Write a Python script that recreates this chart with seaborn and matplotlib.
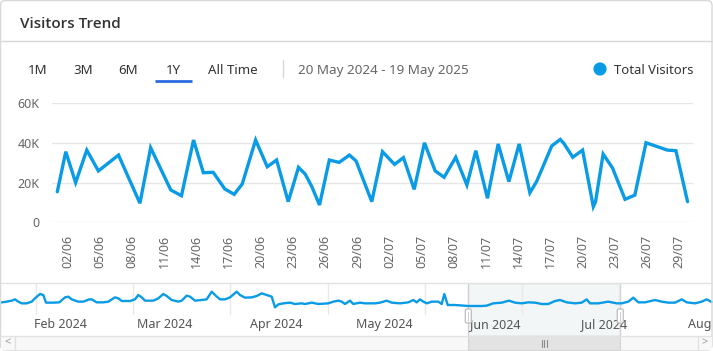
import matplotlib
matplotlib.use("Agg")
import matplotlib.pyplot as plt
from matplotlib.patches import FancyBboxPatch, Rectangle, Circle
import seaborn as sns
import pandas as pd

# ---------------- data ----------------
title = "Visitors Trend"
range_buttons = ["1M", "3M", "6M", "1Y", "All Time"]
selected_button = "1Y"
date_range_text = "20 May 2024 - 19 May 2025"
legend_label = "Total Visitors"

main_times = [
    "2024-06-01 00:00", "2024-06-01 19:00", "2024-06-02 17:00", "2024-06-03 18:00",
    "2024-06-04 20:00", "2024-06-06 17:00", "2024-06-08 17:00", "2024-06-09 17:00",
    "2024-06-11 14:00", "2024-06-12 14:00", "2024-06-13 17:00", "2024-06-14 15:00",
    "2024-06-15 13:00", "2024-06-16 15:00", "2024-06-17 12:00", "2024-06-18 06:00",
    "2024-06-19 12:00", "2024-06-20 14:00", "2024-06-21 11:00", "2024-06-22 13:00",
    "2024-06-23 12:00", "2024-06-24 03:00", "2024-06-24 18:00", "2024-06-25 11:00",
    "2024-06-26 09:00", "2024-06-27 07:00", "2024-06-28 06:00", "2024-06-28 21:00",
    "2024-06-30 08:00", "2024-07-01 08:00", "2024-07-02 11:00", "2024-07-03 07:00",
    "2024-07-04 07:00", "2024-07-05 06:00", "2024-07-06 06:00", "2024-07-07 02:00",
    "2024-07-08 04:00", "2024-07-09 05:00", "2024-07-10 01:00", "2024-07-11 03:00",
    "2024-07-12 03:00", "2024-07-13 03:00", "2024-07-14 02:00", "2024-07-15 02:00",
    "2024-07-15 17:00", "2024-07-17 03:00", "2024-07-17 22:00", "2024-07-18 06:00",
    "2024-07-19 02:00", "2024-07-20 00:00", "2024-07-21 00:00", "2024-07-21 05:00",
    "2024-07-21 22:00", "2024-07-22 19:00", "2024-07-23 23:00", "2024-07-24 21:00",
    "2024-07-25 22:00", "2024-07-27 22:00", "2024-07-28 17:00", "2024-07-29 19:00",
]
main_visitors = [
    15400, 35600, 20000, 36400, 25900, 33900, 9600, 37600,
    16300, 13400, 41500, 25000, 25200, 16800, 14100, 19300,
    41500, 28000, 31400, 10400, 27700, 24300, 17900, 8700,
    31400, 30200, 33900, 30900, 10400, 35600, 29200, 32600,
    16600, 40100, 25900, 22700, 32800, 18800, 36100, 12100,
    39500, 20500, 39500, 14900, 20500, 38500, 41800, 39800,
    32800, 36400, 7900, 10400, 34400, 27400, 11600, 13700,
    40100, 36400, 36100, 10400,
]
x_tick_dates = pd.date_range("2024-06-02", "2024-07-29", freq="3D")
y_ticks = [0, 20000, 40000, 60000]
y_tick_labels = ["0", "20K", "40K", "60K"]

# navigator (overview) series
nav_start = "2024-01-15 08:00"
nav_day_offsets = [
    0, 1.86, 3.25, 4.17, 5.08, 6.03, 7.42, 8.81, 9.72, 11.11, 12.03, 12.78, 14.81, 16.47,
    18.06, 18.97, 19.92, 21.75, 23.14, 24.81, 25.47, 26.86, 28.69, 30.08, 31.94, 32.86,
    33.81, 36.11, 37.5, 38.42, 39.36, 40.28, 42.58, 43.97, 45.36, 46.31, 47.69, 49.53,
    50.47, 51.86, 52.78, 54.17, 56.03, 57.42, 58.81, 59.72, 61.11, 62.5, 63.89, 65.75,
    66.67, 68.06, 69.92, 71.31, 72.69, 74.08, 75.47, 76.39, 77.31, 78.69, 80.56, 81.94,
    83.81, 84.72, 86.58, 88.42, 91.19, 92.58, 93.97, 94.92, 95.83, 97.22, 98.14, 100,
    101.39, 104.17, 105.56, 107.42, 108.81, 111.11, 113.42, 114.81, 115.75, 116.67,
    117.58, 118.53, 119.92, 121.75, 122.69, 123.42, 124.36, 126.39, 130.08, 133.81,
    135.19, 137.03, 139.36, 141.39, 143.06, 144.92, 146.75, 148.61, 150.47, 152.31,
    154.17, 155.56, 157.42, 159.72, 161.58, 162.97, 163.89, 166.19, 168.97, 171.31,
    172.69, 174.53, 175.92, 177.31, 179.17, 181.94, 183.81, 185.64, 187.5, 189.36,
    190.75, 193.06, 194.92, 196.31, 197.69,
]
nav_visitors_k = [
    26.7, 28.7, 30.7, 33.3, 28.7, 25.3, 25.3, 28.7, 35.3, 44, 42, 26.7, 26.7, 27.3,
    37.3, 38.7, 33.3, 28.7, 28.7, 33.3, 33.3, 27.3, 27.3, 28.7, 37.3, 35.3,
    30, 30, 33.3, 42, 37.3, 30.7, 30.7, 35.3, 44, 40, 32, 28.7,
    30.7, 40.7, 38.7, 30.7, 32, 33.3, 48.7, 42, 33.3, 33.3, 37.3, 48.7,
    42, 36.7, 37.3, 40, 45.3, 42, 38.7, 17.3, 23.3, 25.3, 26.7, 24,
    25.3, 24, 26.7, 24, 25.3, 28.7, 30.7, 28.7, 24, 30.7, 24, 26.7,
    25.3, 25.3, 26.7, 30.7, 26.7, 25.3, 27.3, 32, 27.3, 33.3,
    28.7, 25.3, 28.7, 28.7, 24, 44, 22, 22, 20, 20,
    20.7, 25.3, 26.7, 30.7, 26.7, 25.3, 27.3, 26.7, 24, 24,
    30, 32, 27.3, 25.3, 26.7, 33.3, 25.3, 25.3, 28.7, 25.3,
    25.3, 28.7, 36.7, 27.3, 27.3, 32, 28.7, 26.7, 26.7, 33.3,
    27.3, 25.3, 28.7, 33.3, 28,
]
nav_month_labels = ["Feb 2024", "Mar 2024", "Apr 2024", "May 2024", "Jun 2024", "Jul 2024", "Aug 2024"]
nav_month_dates = ["2024-02-01", "2024-03-01", "2024-04-01", "2024-05-01", "2024-06-01", "2024-07-01", "2024-08-01"]
nav_grid_dates = pd.date_range("2024-01-25 08:00", periods=7, freq="27D")
selection_start = "2024-05-24 10:00"
selection_end = "2024-07-05 15:00"

# ---------------- style ----------------
BLUE = "#0A9BE6"
TAB_BLUE = "#2B6DE0"
GRID = "#E6E6E6"
BORDER = "#D8D8D8"
TXT = "#333333"
SUB = "#666666"

sns.set_style("white")
plt.rcParams["font.family"] = ["Noto Sans", "DejaVu Sans"]

W, H = 713, 351
fig = plt.figure(figsize=(W / 100, H / 100), dpi=100)
fig.patch.set_facecolor("white")


def fig_rect(x0, y0, x1, y1):
    return [x0 / W, 1 - y1 / H, (x1 - x0) / W, (y1 - y0) / H]


# ---------------- main chart ----------------
ax = fig.add_axes(fig_rect(52, 103.3, 693, 222.3))
df = pd.DataFrame({"time": pd.to_datetime(main_times), "visitors": main_visitors})
sns.lineplot(data=df, x="time", y="visitors", ax=ax, color=BLUE, linewidth=2.4,
             solid_joinstyle="miter", legend=False)
t0 = pd.Timestamp("2024-06-01")
ax.set_xlim(t0 - pd.Timedelta(days=0.494), t0 + pd.Timedelta(days=59.3))
ax.set_ylim(0, 60000)
ax.set_yticks(y_ticks)
ax.set_yticklabels(y_tick_labels)
ax.set_xticks(x_tick_dates)
ax.set_xticklabels([d.strftime("%d/%m") for d in x_tick_dates], rotation=90)
ax.tick_params(axis="y", length=0, pad=9, labelsize=9, labelcolor=SUB)
ax.tick_params(axis="x", length=0, pad=9, labelsize=9, labelcolor=SUB)
ax.set_xlabel("")
ax.set_ylabel("")
for s in ax.spines.values():
    s.set_visible(False)
ax.grid(False)
for yv in y_ticks:
    ax.axhline(yv, color=GRID, lw=1.0, zorder=0)
ax.set_facecolor("none")

# ---------------- navigator ----------------
nav = fig.add_axes(fig_rect(0, 282.7, 713, 335.7))
ns = pd.Timestamp(nav_start)
nav_df = pd.DataFrame({
    "time": [ns + pd.Timedelta(days=d) for d in nav_day_offsets],
    "visitors": nav_visitors_k,
})
nav.set_xlim(ns, ns + pd.Timedelta(days=W / 3.6))
nav.set_ylim(-39.4, 66.6)
sel0, sel1 = pd.Timestamp(selection_start), pd.Timestamp(selection_end)
xt = nav.get_xaxis_transform()
nav.add_patch(Rectangle((sel0, 0), sel1 - sel0, 1, transform=xt,
                        facecolor="#F3F6F6", edgecolor="#CFCFCF", lw=1.0, zorder=0))
for gd in nav_grid_dates:
    nav.axvline(gd, ymin=0.404, ymax=1, color="#E9E9E9", lw=1.0, zorder=0.5)
sns.lineplot(data=nav_df, x="time", y="visitors", ax=nav, color=BLUE, linewidth=1.7,
             legend=False)
for lab, d in zip(nav_month_labels, nav_month_dates):
    nav.text(pd.Timestamp(d), 0.22, lab, transform=xt, ha="center", va="center",
             fontsize=9, color="#555555", clip_on=False)
nav.set_xticks([])
nav.set_yticks([])
nav.set_xlabel("")
nav.set_ylabel("")
for s in nav.spines.values():
    s.set_visible(False)
nav.set_facecolor("none")

fig.canvas.draw()
hx0 = nav.transData.transform((nav.convert_xunits(sel0), 0))[0]
hx1 = nav.transData.transform((nav.convert_xunits(sel1), 0))[0]

# ---------------- overlay (card, header, scrollbar) ----------------
ov = fig.add_axes([0, 0, 1, 1], zorder=10)
ov.set_xlim(0, W)
ov.set_ylim(H, 0)
ov.axis("off")
ov.patch.set_alpha(0)

ov.add_patch(FancyBboxPatch((0.5, 0.5), W - 1.5, H - 1.5,
                            boxstyle="round,pad=0,rounding_size=5",
                            facecolor="none", edgecolor=BORDER, lw=1.0))
ov.plot([0.5, W - 1], [41.3, 41.3], color=BORDER, lw=1.0)
ov.text(20.5, 27.7, title, fontsize=11, fontweight="semibold", color="#333333",
        ha="left", va="baseline", family=["Open Sans", "Noto Sans", "DejaVu Sans"])

btn_x = [38, 82.8, 127.8, 173.3, 232.8]
for lab, bx in zip(range_buttons, btn_x):
    ov.text(bx, 74, lab, fontsize=9.6, color=TXT, ha="center", va="baseline")
    if lab == selected_button:
        ov.plot([155, 192.3], [80.5, 80.5], color=TAB_BLUE, lw=2.0, solid_capstyle="butt")
ov.plot([282.7, 282.7], [59.5, 76.5], color=BORDER, lw=1.0)
ov.text(298, 74, date_range_text, fontsize=9.7, color=SUB, ha="left", va="baseline")
ov.add_patch(Circle((600, 69), 5.9, color=BLUE))
ov.text(614, 74, legend_label, fontsize=9.4, color=TXT, ha="left", va="baseline")

# navigator borders
ov.plot([0.5, W - 1], [282.7, 282.7], color="#E2E2E2", lw=1.0)
ov.plot([0.5, W - 1], [335.7, 335.7], color="#E2E2E2", lw=1.0)

# scrollbar
ov.add_patch(Rectangle((0.5, 335.7), W - 1.5, 14.3, facecolor="#F8F8F8",
                       edgecolor="none"))
ov.add_patch(Rectangle((hx0, 335.7), hx1 - hx0, 14.3, facecolor="#E3E3E3",
                       edgecolor="#D5D5D5", lw=0.8))
cx = (hx0 + hx1) / 2
for dx in (-2.5, 0, 2.5):
    ov.plot([cx + dx, cx + dx], [339.5, 346.5], color="#8A8A8A", lw=0.8)
ov.plot([15, 15], [336, 350], color="#E2E2E2", lw=1.0)
ov.plot([698, 698], [336, 350], color="#E2E2E2", lw=1.0)
ov.text(8, 343, "<", fontsize=8, color="#9A9A9A", ha="center", va="center")
ov.text(705, 343, ">", fontsize=8, color="#9A9A9A", ha="center", va="center")

# selection handles
for hx in (hx0, hx1):
    ov.add_patch(FancyBboxPatch((hx - 3, 309), 6, 14,
                                boxstyle="round,pad=0,rounding_size=1.5",
                                facecolor="white", edgecolor="#BDBDBD", lw=0.9))
    ov.plot([hx, hx], [311.5, 320.5], color="#CFCFCF", lw=0.8)

fig.savefig("out.png", dpi=100, facecolor="white")
